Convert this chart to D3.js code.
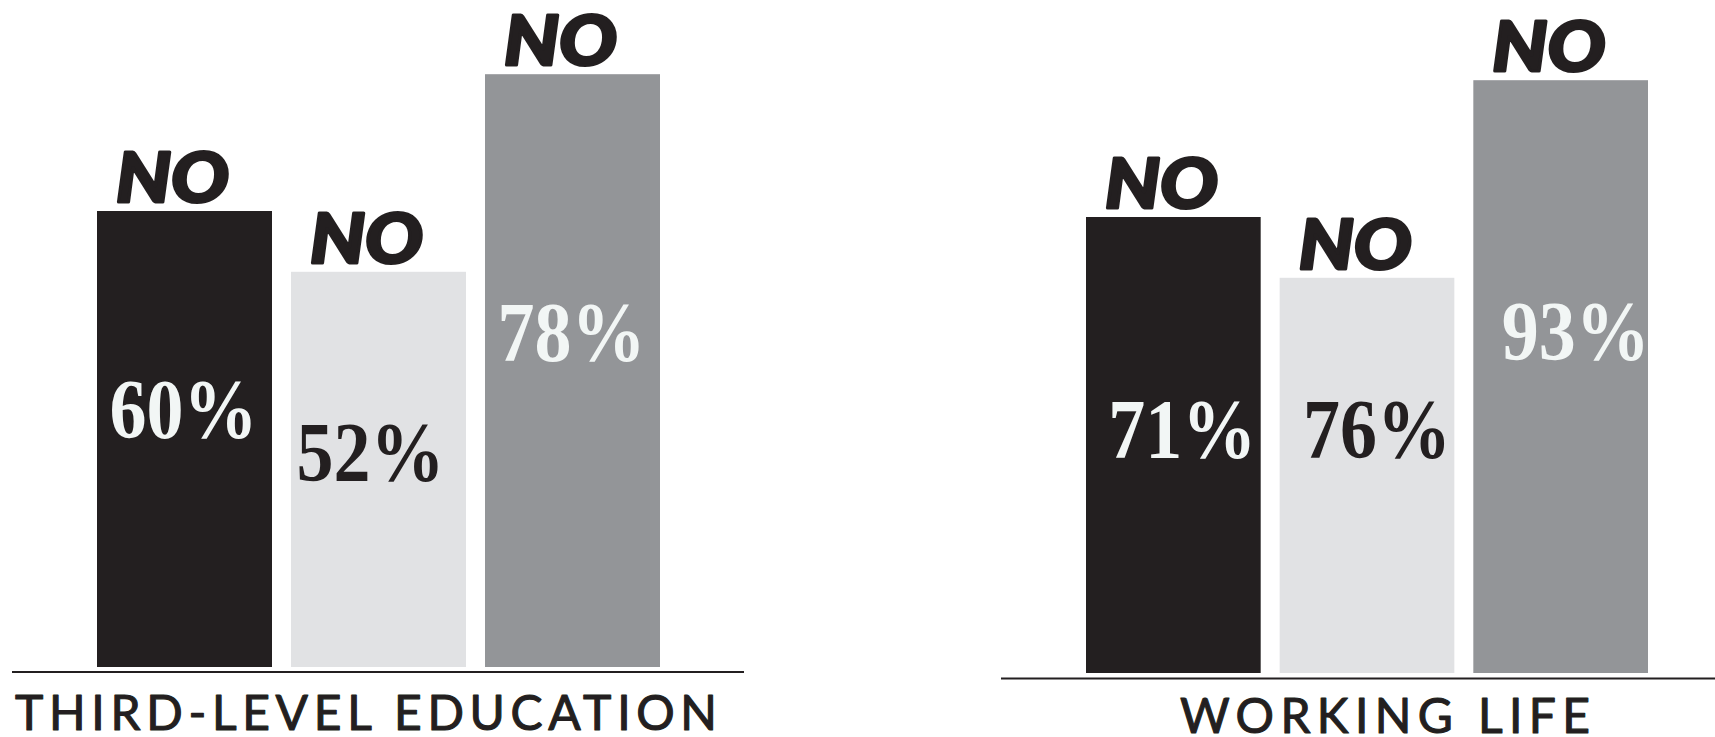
<!DOCTYPE html>
<html>
<head>
<meta charset="utf-8">
<script src="https://cdn.jsdelivr.net/npm/d3@7"></script>
<style>
  html, body { margin: 0; padding: 0; background: #fff; }
  svg { display: block; }
</style>
</head>
<body>
<svg id="chart" width="1715" height="737"></svg>
<script>
// data
const barKeys = ["first", "second", "third"];
const answerLabel = "NO";
const panelTitles = ["THIRD-LEVEL EDUCATION", "WORKING LIFE"];
const educationValues = [60, 52, 78];
const workingValues = [71, 76, 93];
// the artwork reuses the education bar heights for the working-life bars
const workingBarLevels = [60, 52, 78];

// layout
const W = 1715, H = 737;
const colors = ["#231f20", "#e1e2e4", "#939598"];
const pctColors = ["#f2f6f5", "#231f20", "#f2f6f5"];
const pxPerPoint = 7.6;

let panels = [
  {title: panelTitles[0], values: educationValues, levels: educationValues,
   bars: [97, 660], bottom: 667, rule: [12, 744, 672],
   titleX: [15, 717], titleY: 730,
   pctRise: [229, 186, 306], pctShift: [-1, -8, -1]},
  {title: panelTitles[1], values: workingValues, levels: workingBarLevels,
   bars: [1086, 1648], bottom: 673, rule: [1001, 1715, 678.5],
   titleX: [1180, 1590], titleY: 733,
   pctRise: [215, 215, 313], pctShift: [9, 10, 15]}
];

const svg = d3.select("#chart");

panels.forEach(function(p) {
  let x = d3.scaleBand()
      .domain(barKeys)
      .range(p.bars)
      .paddingInner(0.098)
      .paddingOuter(0);

  let y = d3.scaleLinear()
      .domain([0, 100])
      .range([p.bottom, p.bottom - 100 * pxPerPoint]);

  let rows = barKeys.map(function(k, i) {
    return {key: k, value: p.values[i], level: p.levels[i], i: i};
  });

  let g = svg.append("g");

  g.selectAll("rect")
      .data(rows)
      .enter().append("rect")
      .attr("x", d => x(d.key))
      .attr("y", d => y(d.level))
      .attr("width", x.bandwidth())
      .attr("height", d => y(0) - y(d.level))
      .attr("fill", d => colors[d.i]);

  // "NO" over each bar
  g.selectAll("text.no")
      .data(rows)
      .enter().append("text")
      .attr("class", "no")
      .attr("x", d => x(d.key) + 19)
      .attr("y", d => y(d.level) - 9)
      .attr("textLength", 113)
      .attr("lengthAdjust", "spacingAndGlyphs")
      .style("font-family", "Lato, Roboto, 'DejaVu Sans', sans-serif")
      .style("font-weight", 900)
      .style("font-style", "italic")
      .style("font-size", "68px")
      .attr("fill", "#231f20")
      .attr("stroke", "#231f20")
      .attr("stroke-width", 3)
      .attr("stroke-linejoin", "round")
      .text(answerLabel);

  // percentage inside each bar
  g.selectAll("text.pct")
      .data(rows)
      .enter().append("text")
      .attr("class", "pct")
      .attr("x", d => x(d.key) + x.bandwidth() / 2 + p.pctShift[d.i])
      .attr("y", d => y(0) - p.pctRise[d.i])
      .attr("text-anchor", "middle")
      .attr("textLength", 148)
      .attr("lengthAdjust", "spacingAndGlyphs")
      .style("font-family", "'Liberation Serif', 'DejaVu Serif', serif")
      .style("font-weight", 700)
      .style("font-size", "84px")
      .attr("fill", d => pctColors[d.i])
      .text(d => d.value + "%");

  g.append("line")
      .attr("x1", p.rule[0])
      .attr("x2", p.rule[1])
      .attr("y1", p.rule[2])
      .attr("y2", p.rule[2])
      .attr("stroke", "#231f20")
      .attr("stroke-width", 2.2);

  g.append("text")
      .attr("x", p.titleX[0])
      .attr("y", p.titleY)
      .attr("textLength", p.titleX[1] - p.titleX[0])
      .attr("lengthAdjust", "spacing")
      .style("font-family", "Lato, 'Open Sans', sans-serif")
      .style("font-weight", 400)
      .style("font-size", "48px")
      .attr("fill", "#231f20")
      .attr("stroke", "#231f20")
      .attr("stroke-width", 1.1)
      .attr("stroke-linejoin", "round")
      .text(p.title);
});
</script>
</body>
</html>
